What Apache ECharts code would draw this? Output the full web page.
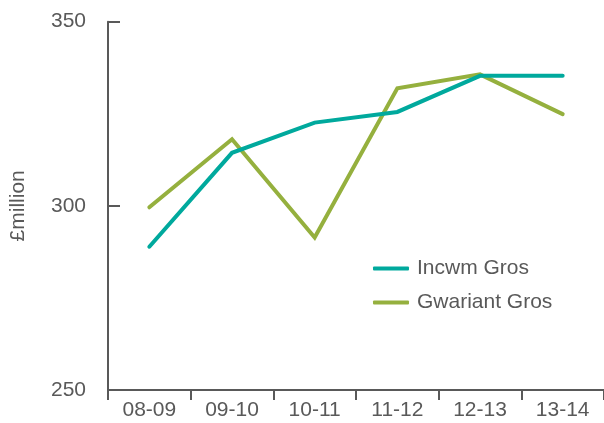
<!DOCTYPE html>
<html><head><meta charset="utf-8">
<script src="https://cdn.jsdelivr.net/npm/echarts@6/dist/echarts.min.js"></script>
<style>html,body{margin:0;padding:0;background:#fff}#c{width:604px;height:423px}</style>
</head><body><div id="c"></div>
<script>
const categories = ['08-09','09-10','10-11','11-12','12-13','13-14'];
const incwmGros = [288.9, 314.4, 322.6, 325.5, 335.3, 335.3];
const gwariantGros = [299.6, 318.1, 291.4, 331.9, 335.7, 324.9];
const yTicks = {min: 250, max: 350, interval: 50};

const chart = echarts.init(document.getElementById('c'), null, {renderer: 'canvas'});
const axisColor = '#595959';
const font = '"Liberation Sans", Arial, sans-serif';
chart.setOption({
  animation: false,
  grid: {left: 106, right: -1, top: 21.7, bottom: 33},
  legend: {
    orient: 'vertical', left: 368, top: 253, itemWidth: 36, itemHeight: 4, itemGap: 13,
    textStyle: {color: axisColor, fontSize: 21, fontFamily: font, padding: [0,0,0,3]},
    data: [{name: 'Incwm Gros', icon: 'roundRect'}, {name: 'Gwariant Gros', icon: 'roundRect'}]
  },
  xAxis: {
    type: 'category', data: categories, boundaryGap: true,
    axisLine: {lineStyle: {color: axisColor, width: 2}},
    axisTick: {show: true, inside: false, length: 10, lineStyle: {color: axisColor, width: 2}},
    axisLabel: {color: axisColor, fontSize: 21, fontFamily: font, margin: 10}
  },
  yAxis: {
    type: 'value', min: yTicks.min, max: yTicks.max, interval: yTicks.interval,
    name: '£million', nameLocation: 'middle', nameGap: 79, nameRotate: 90,
    nameTextStyle: {color: axisColor, fontSize: 21, fontFamily: font},
    axisLine: {show: true, lineStyle: {color: axisColor, width: 2}},
    axisTick: {show: true, inside: true, length: 12, lineStyle: {color: axisColor, width: 2}},
    axisLabel: {color: axisColor, fontSize: 21, fontFamily: font, margin: 22},
    splitLine: {show: false}
  },
  series: [
    {name: 'Incwm Gros', type: 'line', data: incwmGros, symbol: 'none',
     lineStyle: {color: '#00a99d', width: 4, cap: 'round', join: 'miter'}, itemStyle: {color: '#00a99d'}, z: 3},
    {name: 'Gwariant Gros', type: 'line', data: gwariantGros, symbol: 'none',
     lineStyle: {color: '#95b03e', width: 4, cap: 'round', join: 'miter'}, itemStyle: {color: '#95b03e'}, z: 2}
  ]
});
</script></body></html>
